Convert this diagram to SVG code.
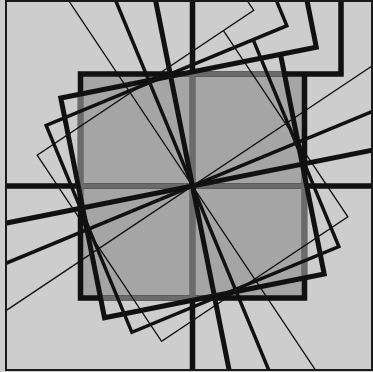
<svg xmlns="http://www.w3.org/2000/svg" width="373" height="372" viewBox="0 0 373 372">
<style>
.ln{fill:none;stroke:#111;stroke-linejoin:miter}
.w0{stroke-width:5.5}
.w1{stroke-width:5}
.w2{stroke-width:3.5}
.w3{stroke-width:1.3}
.gray{fill:none;stroke:#6b6b6b;stroke-width:5.5}
</style>
<defs>
<clipPath id="frameClip"><rect x="6" y="0" width="366" height="371"/></clipPath>
<clipPath id="tiltClip"><rect x="80.5" y="74" width="224" height="224" transform="rotate(-11.25 192.5 186)"/></clipPath>
<path id="shape" d="M341,-400 V74 H80.5 V298 H304.5 V74 M192.5,-400 V800 M-400,186 H800"/>
<path id="inner" d="M80.5,74 H304.5 V298 H80.5 Z M192.5,-400 V800 M-400,186 H800"/>
</defs>
<rect x="0" y="0" width="373" height="372" fill="#cdcdcd"/>
<g clip-path="url(#frameClip)">
<g id="frame-0">
<rect x="80.5" y="74" width="224" height="224" fill="#a5a5a5"/>
<use href="#shape" class="ln w0"/>
<g clip-path="url(#tiltClip)">
<use href="#inner" class="gray"/>
</g>
</g>
<g id="frame-1" transform="rotate(-11.25 192.5 186)">
<use href="#shape" class="ln w1"/>
</g>
<g id="frame-2" transform="rotate(-22.5 192.5 186)">
<use href="#shape" class="ln w2"/>
</g>
<g id="frame-3" transform="rotate(-33.75 192.5 186)">
<use href="#shape" class="ln w3"/>
</g>
</g>
<rect id="border" x="6" y="1" width="366" height="369" fill="none" stroke="#1a1a1a" stroke-width="2"/>
</svg>
